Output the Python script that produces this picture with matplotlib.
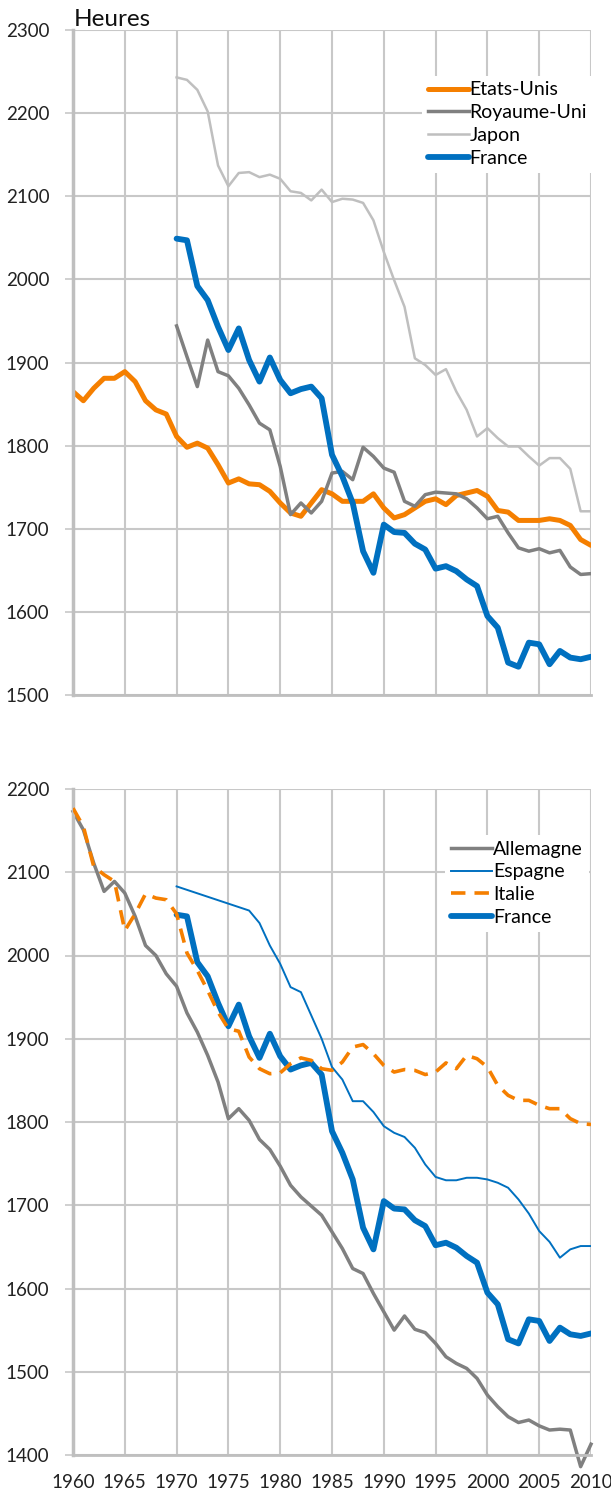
import numpy as np
import matplotlib
matplotlib.use("Agg")
import matplotlib.pyplot as plt

plt.rcParams['font.family'] = ['Lato', 'DejaVu Sans']

# ---- data (heures travaillées par an) ----
years_60 = list(range(1960, 2011))
years_70 = list(range(1970, 2011))

etats_unis = [1865, 1854, 1869, 1881, 1881, 1889, 1877, 1854, 1843, 1838,
              1811, 1798, 1803, 1797, 1777, 1755, 1760, 1754, 1753, 1745,
              1731, 1719, 1715, 1731, 1747, 1742, 1733, 1733, 1733, 1742,
              1725, 1713, 1717, 1725, 1733, 1736, 1729, 1740, 1743, 1746,
              1739, 1722, 1720, 1710, 1710, 1710, 1712, 1710, 1704, 1687,
              1680]

royaume_uni = [1944, 1907, 1871, 1927, 1889, 1884, 1869, 1849, 1827, 1819,
               1775, 1717, 1731, 1719, 1733, 1767, 1769, 1759, 1798, 1787,
               1773, 1768, 1733, 1727, 1741, 1744, 1743, 1742, 1736, 1725,
               1712, 1715, 1695, 1677, 1673, 1676, 1671, 1674, 1654, 1645,
               1646]

japon = [2243, 2240, 2228, 2202, 2137, 2112, 2128, 2129, 2123, 2126,
         2121, 2106, 2104, 2095, 2108, 2093, 2097, 2096, 2092, 2071,
         2033, 1999, 1967, 1905, 1897, 1885, 1892, 1865, 1843, 1811,
         1821, 1809, 1799, 1799, 1787, 1776, 1785, 1785, 1772, 1721,
         1721]

france = [2049, 2047, 1992, 1975, 1943, 1915, 1941, 1903, 1877, 1906,
          1879, 1863, 1868, 1871, 1857, 1789, 1763, 1731, 1673, 1647,
          1705, 1696, 1695, 1682, 1675, 1652, 1655, 1649, 1639, 1631,
          1595, 1581, 1539, 1534, 1563, 1561, 1537, 1553, 1545, 1543,
          1546]

allemagne = [2173, 2151, 2111, 2077, 2089, 2075, 2047, 2012, 2000, 1978,
             1963, 1931, 1908, 1880, 1848, 1804, 1816, 1802, 1779, 1767,
             1747, 1724, 1710, 1699, 1688, 1668, 1648, 1624, 1618, 1594,
             1572, 1550, 1567, 1551, 1547, 1534, 1518, 1510, 1504, 1492,
             1472, 1458, 1446, 1439, 1442, 1435, 1430, 1431, 1430, 1386,
             1413]

years_esp = [1970] + list(range(1977, 2011))
espagne = [2083, 2054, 2039, 2012, 1990, 1962, 1956, 1928, 1900,
           1866, 1851, 1825, 1825, 1812, 1795, 1787, 1782, 1769, 1749,
           1734, 1730, 1730, 1733, 1733, 1731, 1727, 1721, 1707, 1690,
           1669, 1656, 1637, 1647, 1651, 1651]

italie = [2177, 2155, 2107, 2097, 2089, 2030, 2050, 2074, 2069, 2067,
          2050, 2003, 1982, 1958, 1932, 1912, 1909, 1878, 1864, 1858,
          1859, 1870, 1877, 1874, 1864, 1862, 1872, 1890, 1893, 1882,
          1868, 1860, 1863, 1862, 1857, 1860, 1871, 1864, 1880, 1876,
          1866, 1844, 1832, 1826, 1826, 1820, 1816, 1816, 1804, 1798,
          1797]

orange = '#F57F00'
blue = '#0070C0'
dgray = '#808080'
lgray = '#BFBFBF'
gridc = '#C8C8C8'

fig = plt.figure(figsize=(6.11, 14.95), dpi=100)
W, H = 611, 1495
ax1 = fig.add_axes([73 / W, 1 - 695 / H, 518 / W, 665 / H])
ax2 = fig.add_axes([73 / W, 1 - 1455 / H, 518 / W, 666 / H])


def style(ax, ymin, ymax, show_x):
    ax.set_xlim(1960, 2010)
    ax.set_ylim(ymin, ymax)
    ax.set_xticks(range(1960, 2011, 5))
    ax.set_yticks(range(ymin, ymax + 1, 100))
    ax.grid(True, color=gridc, linewidth=1.5)
    ax.set_axisbelow(True)
    for s in ['top', 'right']:
        ax.spines[s].set_visible(False)
    ax.spines['left'].set_color(lgray)
    ax.spines['left'].set_linewidth(2.5)
    ax.spines['bottom'].set_color(lgray)
    ax.spines['bottom'].set_linewidth(2.0)
    ax.tick_params(axis='y', length=6, width=1.2, color=gridc, pad=11,
                   labelsize=13.5, labelcolor='#222222')
    ax.tick_params(axis='x', length=0, pad=14, labelsize=13.5,
                   labelcolor='#222222', labelbottom=show_x)


leg_kw = dict(loc='upper left', frameon=True, fancybox=False, framealpha=1,
              edgecolor='none', fontsize=14, handlelength=2.1,
              handletextpad=0.05, labelspacing=0.3, borderpad=0.3)

# top panel
style(ax1, 1500, 2300, False)
ax1.plot(years_60, etats_unis, color=orange, lw=3.6, label='Etats-Unis',
         solid_capstyle='round')
ax1.plot(years_70, royaume_uni, color=dgray, lw=2.5, label='Royaume-Uni')
ax1.plot(years_70, japon, color=lgray, lw=1.8, label='Japon')
ax1.plot(years_70, france, color=blue, lw=4.2, label='France',
         solid_capstyle='round')
ax1.legend(bbox_to_anchor=(0.655, 0.946), **leg_kw)
fig.text(74 / W, 1 - 26 / H, 'Heures', fontsize=17.5, va='baseline',
         ha='left', color='#111111')

# bottom panel
style(ax2, 1400, 2200, True)
ax2.plot(years_60, allemagne, color=dgray, lw=2.5, label='Allemagne',
         clip_on=False)
ax2.plot(years_esp, espagne, color=blue, lw=1.4, label='Espagne')
ax2.plot(years_70, france, color=blue, lw=4.2, label='France',
         solid_capstyle='round', zorder=3)
ax2.plot(years_60, italie, color=orange, lw=2.6, label='Italie',
         dashes=(4, 2.5), zorder=4)
h, l = ax2.get_legend_handles_labels()
order = [0, 1, 3, 2]
ax2.legend([h[i] for i in order], [l[i] for i in order],
           bbox_to_anchor=(0.7, 0.946), **leg_kw)

fig.savefig('out.png', dpi=100)
